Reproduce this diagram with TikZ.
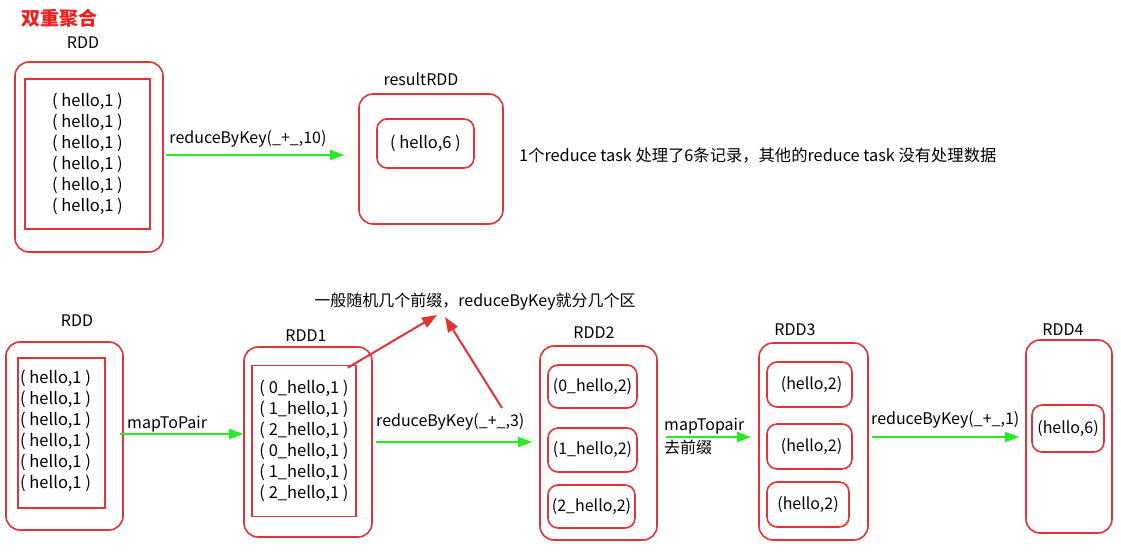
\documentclass[tikz,border=0pt]{standalone}
\usepackage{fontspec}
\setmainfont{Noto Sans CJK SC}
\usetikzlibrary{arrows.meta}
\definecolor{rdred}{RGB}{226,52,56}
\definecolor{ttred}{RGB}{240,30,30}
\definecolor{ggreen}{RGB}{40,235,40}
\tikzset{
  outerbox/.style={draw=rdred, line width=1.6pt, rounded corners=14pt, inner sep=0pt},
  inbox/.style={draw=rdred, line width=1.6pt, inner sep=0pt},
  pill/.style={draw=rdred, line width=1.6pt, rounded corners=10pt, inner sep=0pt, font=\fontsize{16}{18}\selectfont},
  lbl/.style={inner sep=0pt, font=\fontsize{16}{18}\selectfont},
  lines/.style={inner sep=0pt, font=\fontsize{16.5}{21}\selectfont},
  garrow/.style={draw=ggreen, line width=2pt, -{Triangle[length=14pt,width=10pt]}},
  rarrow/.style={draw=rdred, line width=2pt, -{Triangle[length=15pt,width=11pt]}}
}
\begin{document}
\begin{tikzpicture}[x=1pt,y=-1pt]
\useasboundingbox[fill=white] (0,0) rectangle (1121,556);
% ---------- top ----------
\node[lbl, text=ttred, font=\fontsize{19}{20}\selectfont\bfseries] (title) at (59,18) {双重聚合};
\node[lbl] (lA) at (83,43) {RDD};
\node[outerbox, minimum width=148pt, minimum height=190pt] (rddA) at (89,157) {};
\node[inbox, lines, align=center, minimum width=125pt, minimum height=150pt] (rddAin) at (87.5,154)
  {( hello,1 )\\( hello,1 )\\( hello,1 )\\( hello,1 )\\( hello,1 )\\( hello,1 )};
\node[lbl] (lR) at (421,79) {resultRDD};
\node[outerbox, minimum width=144pt, minimum height=130pt] (resA) at (431,159) {};
\node[pill, minimum width=97pt, minimum height=49pt, font=\fontsize{16.5}{18}\selectfont] (resAin) at (425.5,143.5) {( hello,6 )};
\draw[garrow, shorten >=14pt] ([xshift=2pt,yshift=2pt]rddA.east) coordinate (m0) -- (m0 -| resA.west);
\node[lbl, anchor=south] (kA) at (248,147) {reduceByKey(\_+\_,10)};
\node[lbl, anchor=west, font=\fontsize{16.3}{18}\selectfont] (noteA) at (519,155) {1个reduce task 处理了6条记录，其他的reduce task 没有处理数据};
% ---------- bottom ----------
\node[lbl, anchor=south] (noteB) at (475,310) {一般随机几个前缀，reduceByKey就分几个区};
\node[lbl] (lB) at (77,321) {RDD};
\node[outerbox, minimum width=117pt, minimum height=188pt] (rddB) at (64.5,436) {};
\node[inbox, minimum width=87pt, minimum height=150pt] (rddBin) at (61.5,433) {};
\node[lines, align=left, anchor=west] (rddBtxt) at (20,431)
  {( hello,1 )\\( hello,1 )\\( hello,1 )\\( hello,1 )\\( hello,1 )\\( hello,1 )};
\node[lbl] (l1) at (306,336) {RDD1};
\node[outerbox, minimum width=128pt, minimum height=190pt] (rdd1) at (308,442) {};
\node[inbox, lines, align=center, minimum width=104pt, minimum height=151pt] (rdd1in) at (304,441)
  {( 0\_hello,1 )\\( 1\_hello,1 )\\( 2\_hello,1 )\\( 0\_hello,1 )\\( 1\_hello,1 )\\( 2\_hello,1 )};
\node[lbl] (l2) at (594,333) {RDD2};
\node[outerbox, minimum width=117pt, minimum height=194pt] (rdd2) at (598.5,443) {};
\node[pill, minimum width=89pt, minimum height=43pt] (p21) at (592.5,386.5) {(0\_hello,2)};
\node[pill, minimum width=89pt, minimum height=44pt] (p22) at (592.5,450) {(1\_hello,2)};
\node[pill, minimum width=87pt, minimum height=43pt] (p23) at (591.5,506.5) {(2\_hello,2)};
\node[lbl] (l3) at (795,330) {RDD3};
\node[outerbox, minimum width=109pt, minimum height=197pt] (rdd3) at (813.5,441.5) {};
\node[pill, minimum width=85pt, minimum height=45pt] (p31) at (809.5,384.5) {\hspace{4pt}(hello,2)};
\node[pill, minimum width=85pt, minimum height=45pt] (p32) at (809.5,446.5) {\hspace{4pt}(hello,2)};
\node[pill, minimum width=82pt, minimum height=45pt] (p33) at (808,504.5) {(hello,2)};
\node[lbl] (l4) at (1063,330) {RDD4};
\node[outerbox, minimum width=86pt, minimum height=193pt] (rdd4) at (1069,436.5) {};
\node[pill, minimum width=72pt, minimum height=47pt] (p41) at (1068,428.5) {(hello,6)};
% green arrows
\draw[garrow] ([xshift=-4pt,yshift=2pt]rddB.east) coordinate (m1) -- (m1 -| rdd1.west);
\node[lbl, anchor=south west] (kB) at (127,432) {mapToPair};
\draw[garrow, shorten >=7pt] ([xshift=3pt]rdd1.east) coordinate (m2) -- (m2 -| rdd2.west);
\node[lbl, anchor=south west] (kC) at (376,430) {reduceByKey(\_+\_,3)};
\draw[garrow, shorten >=7pt] ([xshift=8pt,yshift=6pt]rdd2.east) coordinate (m3) -- (m3 -| rdd3.west);
\node[lbl, anchor=south west] (kD) at (664,434) {mapTopair};
\node[lbl, anchor=north west] (kD2) at (664,440) {去前缀};
\draw[garrow, shorten >=6pt] ([xshift=3pt,yshift=4.5pt]rdd3.east) coordinate (m4) -- (m4 -| rdd4.west);
\node[lbl, anchor=south west] (kE) at (871,428) {reduceByKey(\_+\_,1)};
% red arrows
\coordinate (t1) at ([xshift=-38pt,yshift=-5pt]noteB.south);
\coordinate (t2) at ([xshift=-30pt,yshift=-7pt]noteB.south);
\draw[rarrow] ([xshift=-9pt,yshift=-3pt]rdd1in.north east) -- (t1);
\draw[rarrow] ([xshift=126pt,yshift=22pt]kC.south west) -- (t2);
\end{tikzpicture}
\end{document}
